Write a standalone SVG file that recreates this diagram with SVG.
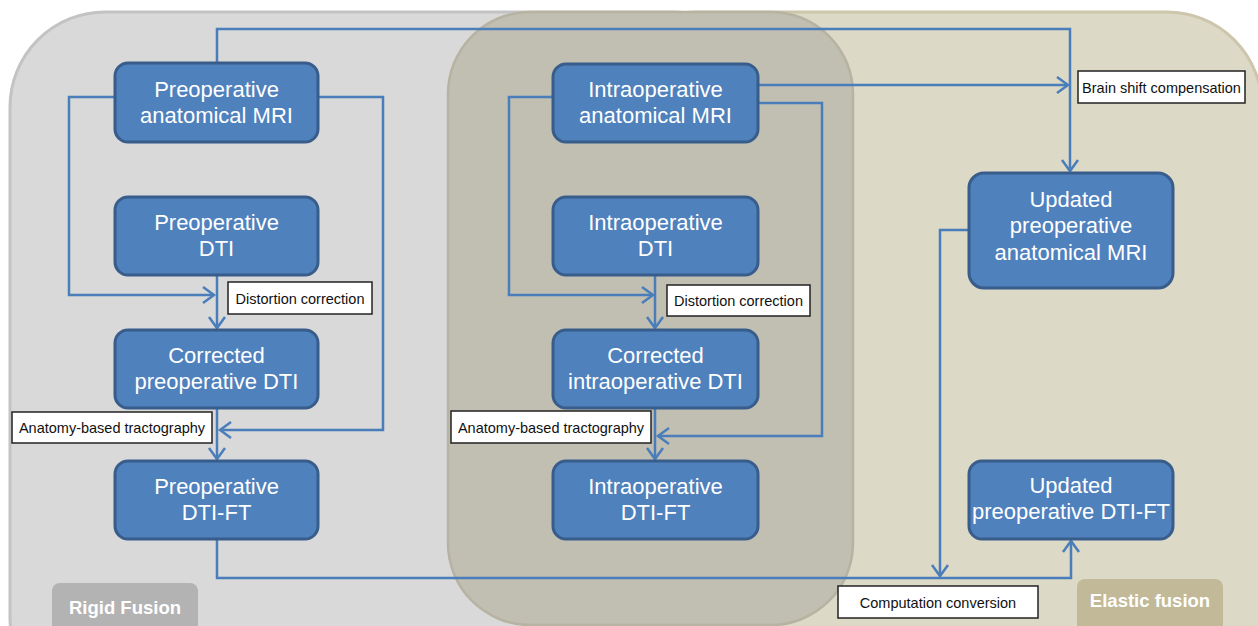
<svg xmlns="http://www.w3.org/2000/svg" width="1258" height="626" viewBox="0 0 1258 626">
<defs>
<marker id="arr" markerUnits="userSpaceOnUse" markerWidth="24" markerHeight="24" viewBox="-13 -12 16 24" refX="0" refY="0" orient="auto">
<path d="M-11,-8 L0,0 L-11,8" fill="none" stroke="#4a7ebb" stroke-width="2.5"/>
</marker>
<style>
.node rect{fill:#4f81bd;stroke:#385d8a;stroke-width:3}
.node text{fill:#fff;font-family:"Liberation Sans",Arial,sans-serif;font-size:22px;text-anchor:middle}
.lbl rect{fill:#fff;stroke:#222;stroke-width:1.5}
.lbl text{fill:#111;font-family:"Liberation Sans",Arial,sans-serif;font-size:14.5px;text-anchor:middle}
.conn path{fill:none;stroke:#4a7ebb;stroke-width:2.5}
.tag text{fill:#fff;font-family:"Liberation Sans",Arial,sans-serif;font-size:18.5px;font-weight:bold;text-anchor:middle}
</style>
</defs>
<rect width="1258" height="626" fill="#ffffff"/>
<!-- containers -->
<g id="elastic-container">
<rect x="600" y="12" width="662" height="700" rx="95" fill="#ddd9c7" stroke="#ccc6ac" stroke-width="3"/>
</g>
<g id="rigid-container">
<rect x="10" y="12" width="760" height="700" rx="95" fill="#d9d9d9" stroke="#c3c3c3" stroke-width="3"/>
</g>
<g id="intra-container">
<rect x="448" y="12" width="405" height="613" rx="82" fill="#c1beb2" stroke="#b7b3a2" stroke-width="2.5"/>
</g>
<g id="rigid-tag" class="tag">
<rect x="52" y="583" width="146" height="60" rx="8" fill="#b3b3b3"/>
<text x="125" y="614">Rigid Fusion</text>
</g>
<g id="elastic-tag" class="tag">
<rect x="1077" y="579" width="146" height="60" rx="8" fill="#c1b997"/>
<text x="1150" y="607">Elastic fusion</text>
</g>
<!-- connectors -->
<g id="connectors" class="conn">
<path d="M217,63 V29 H1070 V171" marker-end="url(#arr)"/>
<path d="M758,85 H1068" marker-end="url(#arr)"/>
<path d="M115,97 H69 V295 H214" marker-end="url(#arr)"/>
<path d="M318,97 H383 V430 H220" marker-end="url(#arr)"/>
<path d="M217,275 V328" marker-end="url(#arr)"/>
<path d="M217,408 V459" marker-end="url(#arr)"/>
<path d="M553,97 H509 V295 H653" marker-end="url(#arr)"/>
<path d="M758,103 H822 V436 H658" marker-end="url(#arr)"/>
<path d="M655,275 V328" marker-end="url(#arr)"/>
<path d="M655,408 V459" marker-end="url(#arr)"/>
<path d="M217,540 V578 H1071 V541" marker-end="url(#arr)"/>
<path d="M969,230 H940 V576" marker-end="url(#arr)"/>
</g>
<!-- nodes -->
<g id="pre-mri" class="node">
<rect x="115" y="63" width="203" height="79" rx="13"/>
<text x="216.5" y="97">Preoperative</text>
<text x="216.5" y="123">anatomical MRI</text>
</g>
<g id="pre-dti" class="node">
<rect x="115" y="197" width="203" height="78" rx="13"/>
<text x="216.5" y="230">Preoperative</text>
<text x="216.5" y="256">DTI</text>
</g>
<g id="pre-corr" class="node">
<rect x="115" y="330" width="203" height="78" rx="13"/>
<text x="216.5" y="363">Corrected</text>
<text x="216.5" y="389">preoperative DTI</text>
</g>
<g id="pre-ft" class="node">
<rect x="115" y="461" width="203" height="78" rx="13"/>
<text x="216.5" y="494">Preoperative</text>
<text x="216.5" y="520">DTI-FT</text>
</g>
<g id="intra-mri" class="node">
<rect x="553" y="64" width="205" height="78" rx="13"/>
<text x="655.5" y="97">Intraoperative</text>
<text x="655.5" y="123">anatomical MRI</text>
</g>
<g id="intra-dti" class="node">
<rect x="553" y="197" width="205" height="78" rx="13"/>
<text x="655.5" y="230">Intraoperative</text>
<text x="655.5" y="256">DTI</text>
</g>
<g id="intra-corr" class="node">
<rect x="553" y="330" width="205" height="78" rx="13"/>
<text x="655.5" y="363">Corrected</text>
<text x="655.5" y="389">intraoperative DTI</text>
</g>
<g id="intra-ft" class="node">
<rect x="553" y="461" width="205" height="78" rx="13"/>
<text x="655.5" y="494">Intraoperative</text>
<text x="655.5" y="520">DTI-FT</text>
</g>
<g id="upd-mri" class="node">
<rect x="969" y="173" width="204" height="115" rx="15"/>
<text x="1071" y="207">Updated</text>
<text x="1071" y="233">preoperative</text>
<text x="1071" y="260">anatomical MRI</text>
</g>
<g id="upd-ft" class="node">
<rect x="969" y="461" width="204" height="78" rx="13"/>
<text x="1071" y="493">Updated</text>
<text x="1071" y="519">preoperative DTI-FT</text>
</g>
<!-- labels -->
<g id="lbl-dist-pre" class="lbl">
<rect x="228" y="282" width="144" height="32"/>
<text x="300" y="304">Distortion correction</text>
</g>
<g id="lbl-dist-intra" class="lbl">
<rect x="667" y="285" width="143" height="31"/>
<text x="738.5" y="306">Distortion correction</text>
</g>
<g id="lbl-trac-pre" class="lbl">
<rect x="12" y="412" width="200" height="31"/>
<text x="112" y="433">Anatomy-based tractography</text>
</g>
<g id="lbl-trac-intra" class="lbl">
<rect x="451" y="411" width="200" height="32"/>
<text x="551" y="433">Anatomy-based tractography</text>
</g>
<g id="lbl-brain" class="lbl">
<rect x="1078" y="71" width="167" height="32"/>
<text x="1161.5" y="93">Brain shift compensation</text>
</g>
<g id="lbl-comp" class="lbl">
<rect x="838" y="586" width="200" height="32"/>
<text x="938" y="608">Computation conversion</text>
</g>
</svg>
